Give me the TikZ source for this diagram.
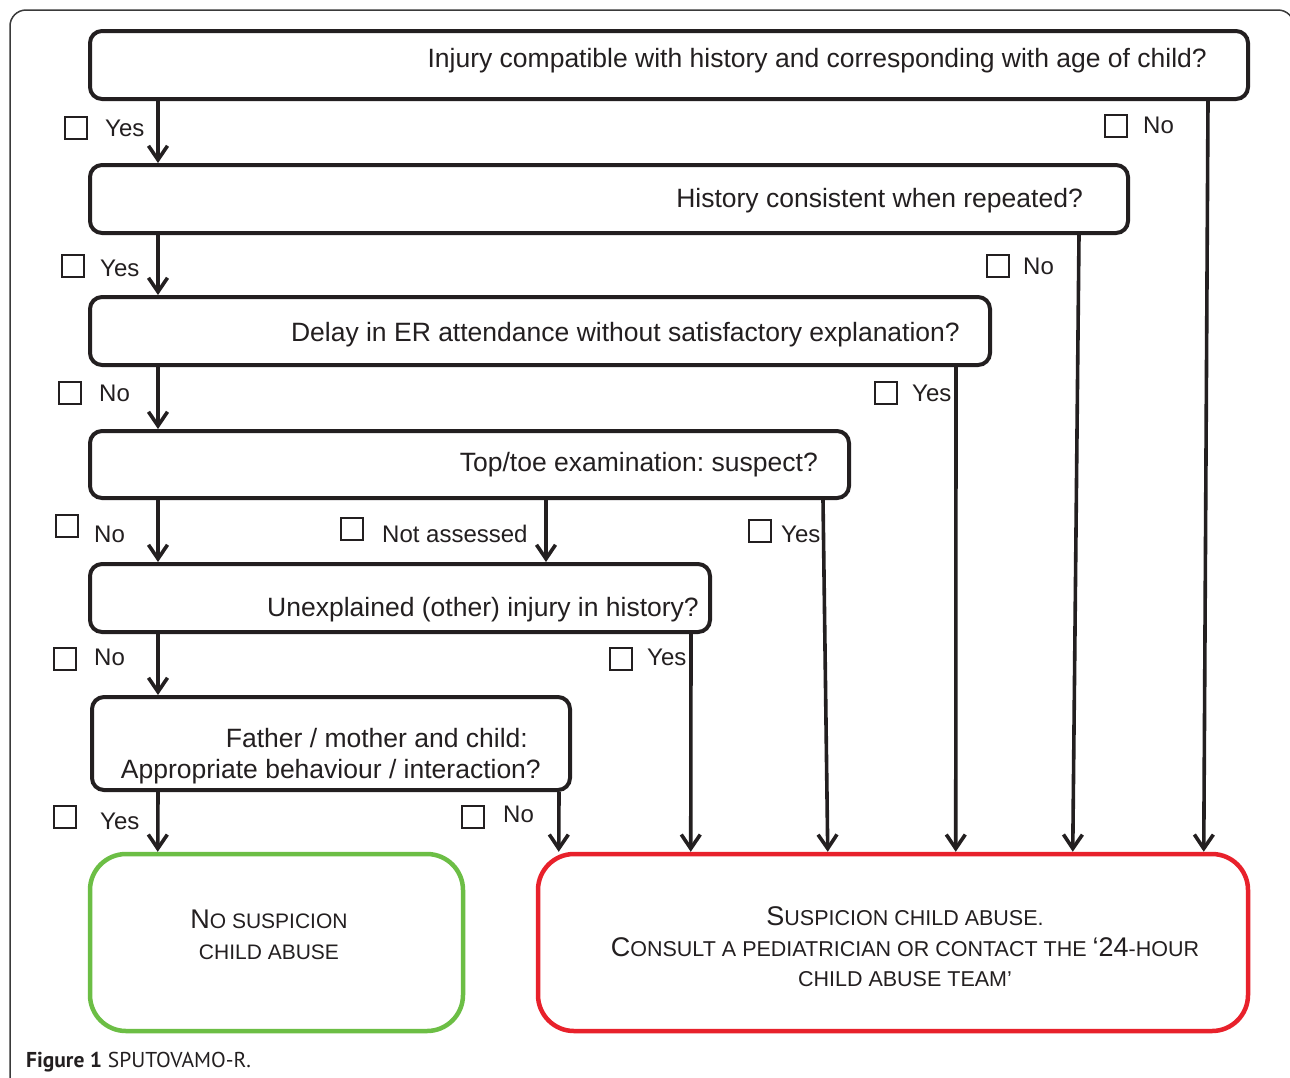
\documentclass[tikz,border=0pt]{standalone}
\usepackage{fontspec}
\setmainfont{Liberation Sans}
\newfontfamily\capfont{PT Sans}
\usetikzlibrary{arrows.meta}
\definecolor{ink}{HTML}{231F20}
\definecolor{frameink}{HTML}{3A3A3A}
\definecolor{okgreen}{HTML}{6CBE45}
\definecolor{alarmred}{HTML}{E8212B}
\newcommand\bigsc[1]{{\fontsize{27}{31}\selectfont #1}}
\newcommand\bigscr[1]{{\fontsize{27}{30.5}\selectfont #1}}
\frenchspacing
\begin{document}
\begin{tikzpicture}[x=1pt,y=-1pt,
 qbox/.style={draw=ink, line width=4pt, rounded corners=12pt, inner sep=0pt},
 endbox/.style={line width=4.5pt, rounded corners=36pt, inner sep=0pt},
 qtext/.style={anchor=base east, inner sep=0pt, text=ink, font=\fontsize{26.5}{32}\selectfont},
 ans/.style={anchor=base west, inner sep=0pt, text=ink, font=\fontsize{24}{28}\selectfont},
 chk/.style={draw=ink, line width=1.8pt, minimum size=22pt, inner sep=0pt},
 arr/.style={draw=ink, line width=3.6pt, -{Straight Barb[length=14pt,width=19pt]}},
 endtext/.style={inner sep=0pt, text=ink, align=center},
]
\useasboundingbox (0,0) rectangle (1290,1077);
\clip (0,0) rectangle (1290,1077);
\fill[white] (0,0) rectangle (1290,1077);
\draw[draw=frameink, line width=1.5pt, rounded corners=16pt] (10,10) rectangle (1294,1100);

% question boxes
\node[qbox, minimum width=1158pt, minimum height=68pt] (b1) at (669,65) {};
\node[qbox, minimum width=1038pt, minimum height=68pt] (b2) at (609,199) {};
\node[qbox, minimum width=900pt, minimum height=68pt] (b3) at (540,331) {};
\node[qbox, minimum width=759pt, minimum height=67pt] (b4) at (469.5,464.5) {};
\node[qbox, minimum width=620pt, minimum height=68pt] (b5) at (400,598) {};
\node[qbox, minimum width=478pt, minimum height=93pt] (b6) at (331,743.5) {};

\node[qtext] (t1) at (1207,67) {Injury compatible with history and corresponding with age of child?};
\node[qtext] (t2) at (1083,207) {History consistent when repeated?};
\node[qtext] (t3) at (960,341) {Delay in ER attendance without satisfactory explanation?};
\node[qtext] (t4) at (818,471) {Top/toe examination: suspect?};
\node[qtext] (t5) at (699,616) {Unexplained (other) injury in history?};
\node[qtext] (t6a) at (528,747) {Father / mother and child:};
\node[qtext] (t6b) at (541,778) {Appropriate behaviour / interaction?};

% end boxes
\node[endbox, draw=okgreen, minimum width=373pt, minimum height=177pt] (nosusp) at (276.5,942.5) {};
\node[endbox, draw=alarmred, minimum width=710pt, minimum height=177pt] (susp) at (893,942.5) {};
\node[endtext, font=\fontsize{21}{31}\selectfont] (nosusptext) at (269,935)
  {\bigsc{N}O SUSPICION\\CHILD ABUSE};
\node[endtext, font=\fontsize{21.5}{30.5}\selectfont] (susptext) at (905,947)
  {\bigscr{S}USPICION CHILD ABUSE.\\\bigscr{C}ONSULT A PEDIATRICIAN OR CONTACT THE \bigscr{‘24}-HOUR\\CHILD ABUSE TEAM’};

% left chain
\draw[arr] ([xshift=70pt]b1.south west) -- ([xshift=70pt]b2.north west);
\draw[arr] ([xshift=70pt]b2.south west) -- ([xshift=70pt]b3.north west);
\draw[arr] ([xshift=70pt]b3.south west) -- ([xshift=70pt]b4.north west);
\draw[arr] ([xshift=70pt]b4.south west) -- ([xshift=70pt]b5.north west);
\draw[arr] ([xshift=458pt]b4.south west) -- ([xshift=458pt]b5.north west);
\draw[arr] ([xshift=70pt]b5.south west) -- ([xshift=68pt]b6.north west);
\draw[arr] ([xshift=68pt]b6.south west) -- ([xshift=70pt]nosusp.north west);

% right arrows to suspicion
\draw[arr] ([xshift=1120pt]b1.south west) -- ([xshift=668pt]susp.north west);
\draw[arr] ([xshift=991pt]b2.south west) -- ([xshift=537pt]susp.north west);
\draw[arr] ([xshift=868pt]b3.south west) -- ([xshift=420pt]susp.north west);
\draw[arr] ([xshift=735pt]b4.south west) -- ([xshift=292pt]susp.north west);
\draw[arr] ([xshift=603pt]b5.south west) -- ([xshift=155pt]susp.north west);
\draw[arr] ([xshift=469pt]b6.south west) -- ([xshift=23pt]susp.north west);

% answer labels
\node[chk] (c1) at (76,128) {};   \node[ans] (a1) at (105,136) {Yes};
\node[chk] (c2) at (1116,126) {}; \node[ans] (a2) at (1143,133) {No};
\node[chk] (c3) at (73,266) {};   \node[ans] (a3) at (100,276) {Yes};
\node[chk] (c4) at (998,266) {};  \node[ans] (a4) at (1023,274) {No};
\node[chk] (c5) at (70,393) {};   \node[ans] (a5) at (99,401) {No};
\node[chk] (c6) at (886,393) {};  \node[ans] (a6) at (912,401) {Yes};
\node[chk] (c7) at (67,526) {};   \node[ans] (a7) at (94,542) {No};
\node[chk] (c8) at (352,529) {};  \node[ans] (a8) at (382,542) {Not assessed};
\node[chk] (c9) at (760,531) {};  \node[ans] (a9) at (781,542) {Yes};
\node[chk] (c10) at (65,659) {};  \node[ans] (a10) at (94,665) {No};
\node[chk] (c11) at (621,659) {}; \node[ans] (a11) at (647,665) {Yes};
\node[chk] (c12) at (65,817) {};  \node[ans] (a12) at (100,829) {Yes};
\node[chk] (c13) at (473,817) {}; \node[ans] (a13) at (503,822) {No};

% caption
\node[anchor=base west, inner sep=0pt, text=ink, font=\capfont\fontsize{21.5}{24}\selectfont] (caption) at (26,1067)
  {\textbf{Figure 1} SPUTOVAMO-R.};
\end{tikzpicture}
\end{document}
